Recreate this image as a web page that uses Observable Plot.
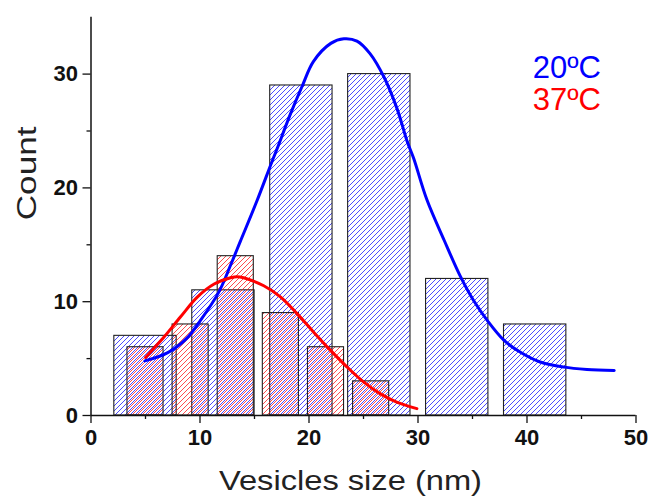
<!DOCTYPE html>
<html>
<head>
<meta charset="utf-8">
<script src="https://cdn.jsdelivr.net/npm/d3@7"></script>
<script src="https://cdn.jsdelivr.net/npm/@observablehq/plot@0.6"></script>
<style>
html, body { margin: 0; padding: 0; background: #fff; }
#chart svg { display: block; }
</style>
</head>
<body>
<div id="chart"></div>
<script>
// ---- Data ----
// 20 ºC histogram (bin centers, nm) and counts
const blueCenters = [5.0, 12.15, 19.3, 26.45, 33.6, 40.75];
const blueCounts  = [7, 11, 29, 30, 12, 8];
const blueBinWidth = 5.72;

// 37 ºC histogram (bin centers, nm) and counts
const redCenters = [5.0, 9.14, 13.28, 17.42, 21.56, 25.7];
const redCounts  = [6, 8, 14, 9, 6, 3];
const redBinWidth = 3.31;

// Fitted curves
const blueFitX = [4.95, 7.0, 8.8, 10.0, 11.7, 12.8, 13.7, 15.2, 16.6, 17.1, 18.3, 19.4, 20.4, 22.0, 23.2, 24.4, 25.6, 26.9, 28.1, 29.0, 29.6, 30.8, 32.4, 33.9, 35.1, 36.4, 37.9, 39.4, 41.2, 43.4, 45.5, 48.0];
const blueFitY = [4.8, 5.5, 6.8, 8.3, 10.8, 13.2, 15.3, 18.8, 22.3, 23.5, 26.5, 29.0, 31.1, 32.7, 33.1, 32.9, 31.8, 29.7, 26.9, 24.1, 22.6, 19.0, 15.4, 12.2, 10.1, 8.3, 6.6, 5.55, 4.7, 4.25, 4.05, 3.95];

const redFitX = [5.0, 6.7, 8.2, 9.75, 11.3, 12.8, 13.4, 14.0, 15.85, 17.4, 18.9, 20.45, 22.0, 23.5, 25.0, 26.55, 28.1, 29.9];
const redFitY = [5.1, 6.9, 8.65, 10.4, 11.55, 12.1, 12.2, 12.1, 11.4, 10.4, 8.95, 7.3, 5.7, 4.25, 2.95, 1.9, 1.15, 0.6];

const xTicks = [0, 10, 20, 30, 40, 50];
const xMinorTicks = [5, 15, 25, 35, 45];
const yTicks = [0, 10, 20, 30];
const yMinorTicks = [5, 15, 25];

const seriesLabels = ["20ºC", "37ºC"];
const xTitle = "Vesicles size (nm)";
const yTitle = "Count";

// ---- Tables built from the arrays ----
const blueBars = blueCenters.map((c, i) => ({x1: c - blueBinWidth / 2, x2: c + blueBinWidth / 2, count: blueCounts[i]}));
const redBars = redCenters.map((c, i) => ({x1: c - redBinWidth / 2, x2: c + redBinWidth / 2, count: redCounts[i]}));
const blueFit = blueFitX.map((x, i) => ({x, y: blueFitY[i]}));
const redFit = redFitX.map((x, i) => ({x, y: redFitY[i]}));

const font = '"Liberation Sans", Arial, Helvetica, sans-serif';
const BLUE = "#0000ff";
const RED = "#ff0000";

// hatch patterns
const defs = () => {
  const d = d3.create("svg:defs");
  const mk = (id, color, shift) => {
    const p = d.append("pattern").attr("id", id)
      .attr("patternUnits", "userSpaceOnUse").attr("width", 5).attr("height", 5)
      .attr("patternTransform", `translate(${shift},0)`);
    p.append("path").attr("d", "M-1,1 l2,-2 M0,5 l5,-5 M4,6 l2,-2")
      .attr("stroke", color).attr("stroke-width", 0.7).attr("fill", "none")
      .attr("shape-rendering", "crispEdges");
  };
  mk("hatchBlue", BLUE, 0);
  mk("hatchRed", RED, 2);
  return d.node();
};

const chart = Plot.plot({
  width: 652,
  height: 497,
  marginLeft: 90.5,
  marginRight: 16.5,
  marginTop: 16.7,
  marginBottom: 82,
  x: {domain: [0, 50]},
  y: {domain: [0, 35]},
  style: {fontFamily: font, background: "#fff", color: "#111"},
  marks: [
    defs,
    Plot.rect(blueBars, {x1: "x1", x2: "x2", y1: 0, y2: "count", fill: "url(#hatchBlue)", stroke: "#222", strokeWidth: 1.1}),
    Plot.rect(redBars, {x1: "x1", x2: "x2", y1: 0, y2: "count", fill: "url(#hatchRed)", stroke: "#222", strokeWidth: 1.1}),
    Plot.line(blueFit, {x: "x", y: "y", stroke: BLUE, strokeWidth: 3, curve: "catmull-rom"}),
    Plot.line(redFit, {x: "x", y: "y", stroke: RED, strokeWidth: 3, curve: "catmull-rom"}),
    Plot.ruleX([0], {y1: 0, y2: 35, stroke: "#111", strokeWidth: 1.5}),
    Plot.ruleY([0], {x1: 0, x2: 50, stroke: "#111", strokeWidth: 1.5}),
    Plot.axisY(yTicks, {tickSize: 8, tickPadding: 5, fontSize: 22, fontWeight: "bold", strokeWidth: 1.3, label: null, tickFormat: d => `${d}`}),
    Plot.axisY(yMinorTicks, {tickSize: 4, strokeWidth: 1.3, label: null, tickFormat: () => ""}),
    Plot.axisX(xTicks, {tickSize: 8, tickPadding: 6, fontSize: 22, fontWeight: "bold", strokeWidth: 1.3, label: null, tickFormat: d => `${d}`}),
    Plot.axisX(xMinorTicks, {tickSize: 4, strokeWidth: 1.3, label: null, tickFormat: () => ""}),
    Plot.text([xTitle], {frameAnchor: "bottom", text: d => d, dx: -13, dy: 66, fontSize: 28, lineAnchor: "middle", fill: "#222"}),
    Plot.text([yTitle], {frameAnchor: "left", text: d => d, rotate: -90, dx: -64, dy: 4, fontSize: 27, lineAnchor: "middle", fill: "#222"}),
    Plot.text([seriesLabels[0]], {frameAnchor: "top-right", text: d => d, dx: -35, dy: 51, fontSize: 31, textAnchor: "end", lineAnchor: "middle", fill: BLUE}),
    Plot.text([seriesLabels[1]], {frameAnchor: "top-right", text: d => d, dx: -35, dy: 82.7, fontSize: 31, textAnchor: "end", lineAnchor: "middle", fill: RED})
  ]
});

// stretch axis titles to the widths seen in the reference
d3.select(chart).selectAll("text").each(function () {
  const t = this.textContent;
  if (t === xTitle) d3.select(this).attr("textLength", 263).attr("lengthAdjust", "spacingAndGlyphs");
  if (t === yTitle) d3.select(this).attr("textLength", 94).attr("lengthAdjust", "spacingAndGlyphs");
});

document.getElementById("chart").appendChild(chart);
</script>
</body>
</html>
